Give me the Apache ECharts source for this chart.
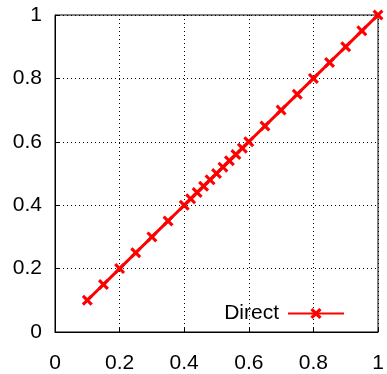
<!DOCTYPE html>
<html>
<head>
<meta charset="utf-8">
<script src="https://cdn.jsdelivr.net/npm/echarts@6/dist/echarts.min.js"></script>
<style>
  html, body { margin: 0; padding: 0; background: #fff; }
  #chart { width: 387px; height: 374px; }
</style>
</head>
<body>
<div id="chart"></div>
<script>
    // sample points of the "Direct" curve
    var xValues = [0.1, 0.15, 0.2, 0.25, 0.3, 0.35, 0.4, 0.42, 0.44, 0.46, 0.48, 0.5,
        0.52, 0.54, 0.56, 0.58, 0.6, 0.65, 0.7, 0.75, 0.8, 0.85, 0.9, 0.95, 1.0]
    var yValues = [0.1, 0.15, 0.2, 0.25, 0.3, 0.35, 0.4, 0.42, 0.44, 0.46, 0.48, 0.5,
        0.52, 0.54, 0.56, 0.58, 0.6, 0.65, 0.7, 0.75, 0.8, 0.85, 0.9, 0.95, 1.0]
    var seriesName = 'Direct'

    // X shaped marker
    var crossSymbol = 'path://M0,2L2,0L5,3L8,0L10,2L7,5L10,8L8,10L5,7L2,10L0,8L3,5Z'

    var chart = echarts.init(document.getElementById('chart'))
    var axisCommon = {
        type: 'value',
        min: 0,
        max: 1,
        interval: 0.2,
        axisLine: { show: true, lineStyle: { color: '#000', width: 1 } },
        axisTick: { show: true, inside: true, length: 5, lineStyle: { color: '#000' } },
        splitLine: { show: true, lineStyle: { color: '#000', type: [1, 3], width: 1 } },
        axisLabel: {
            color: '#000',
            fontSize: 21,
            fontFamily: 'Liberation Sans',
            formatter: function (v) { return String(+v.toFixed(1)) }
        }
    }
    chart.setOption({
        animation: false,
        grid: {
            left: 55,
            right: 9,
            top: 15,
            bottom: 40,
            show: true,
            borderColor: '#000',
            borderWidth: 1
        },
        legend: {
            right: 37,
            bottom: 45,
            align: 'right',
            itemWidth: 56,
            itemHeight: 14,
            itemGap: 10,
            textStyle: { color: '#000', fontSize: 21, fontFamily: 'Liberation Sans', padding: [0, 4, 0, 0] },
            data: [seriesName]
        },
        xAxis: Object.assign({}, axisCommon, {
            axisLabel: Object.assign({}, axisCommon.axisLabel, { margin: 21 })
        }),
        yAxis: Object.assign({}, axisCommon, {
            axisLabel: Object.assign({}, axisCommon.axisLabel, { margin: 13 })
        }),
        series: [
            {
                name: seriesName,
                type: 'line',
                data: xValues.map(function (x, i) { return [x, yValues[i]] }),
                symbol: crossSymbol,
                symbolSize: 11,
                showAllSymbol: true,
                lineStyle: { color: '#ff0000', width: 3 },
                itemStyle: { color: '#ff0000', opacity: 1 }
            }
        ]
    })
</script>
</body>
</html>
